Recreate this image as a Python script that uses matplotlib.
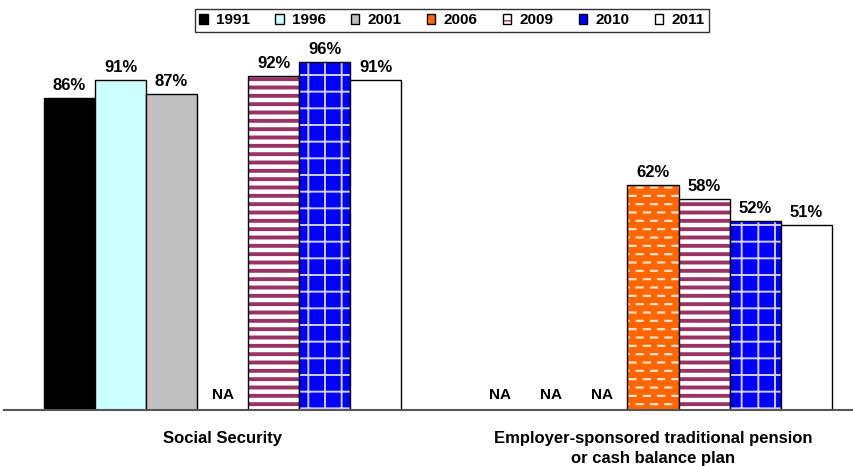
import warnings
import numpy as np
import matplotlib
matplotlib.use("Agg")
import matplotlib.pyplot as plt
import matplotlib.hatch as mhatch
from matplotlib.path import Path
from matplotlib.patches import Patch
from matplotlib.legend_handler import HandlerTuple

warnings.filterwarnings("ignore")

# Data
categories = ["Social Security", "Employer-sponsored traditional pension\nor cash balance plan"]
years = ["1991", "1996", "2001", "2006", "2009", "2010", "2011"]
social_security = [86, 91, 87, None, 92, 96, 91]
employer_pension = [None, None, None, 62, 58, 52, 51]

# Styles per year: face colour, hatch, hatch colour, hatch linewidth
styles = {
    "1991": dict(face="#000000", hatch=None, hcolor=None, hlw=1.0),
    "1996": dict(face="#ccffff", hatch=None, hcolor=None, hlw=1.0),
    "2001": dict(face="#c0c0c0", hatch=None, hcolor=None, hlw=1.0),
    "2006": dict(face="#ff6600", hatch="==", hcolor="#ffe0c8", hlw=1.6),
    "2009": dict(face="#ffffff", hatch="--", hcolor="#993366", hlw=2.8),
    "2010": dict(face="#0000ff", hatch="+", hcolor="#d0d0ff", hlw=1.4),
    "2011": dict(face="#ffffff", hatch=None, hcolor=None, hlw=1.0),
}


# Staggered dash hatch for the 2006 bars
class DashHatch(mhatch.HatchPatternBase):
    def __init__(self, hatch, density):
        self.num_rows = int(hatch.count("=") * density)
        self.num_cols = 7
        self.num_vertices = self.num_rows * self.num_cols * 2

    def set_vertices_and_codes(self, vertices, codes):
        if self.num_rows == 0:
            return
        period = 1.0 / self.num_cols
        dash = 0.42 * period
        k = 0
        for r in range(self.num_rows):
            y = (r + 0.5) / self.num_rows
            off = 0.07 * period + (0.5 * period if r % 2 else 0.0)
            for c in range(self.num_cols):
                x0 = c * period + off
                vertices[k] = (x0, y)
                vertices[k + 1] = (min(x0 + dash, 0.999), y)
                codes[k] = Path.MOVETO
                codes[k + 1] = Path.LINETO
                k += 2


mhatch._hatch_types.append(DashHatch)

plt.rcParams["font.family"] = ["Liberation Sans", "DejaVu Sans"]
plt.rcParams["font.weight"] = "bold"

fig = plt.figure(figsize=(8.54, 4.66), dpi=100)
ax = fig.add_axes([4 / 854, 56 / 466, 850 / 854, 363 / 466])

x = np.arange(len(categories))
bw = 0.1186
series = [social_security, employer_pension]

handles = []
for i, yr in enumerate(years):
    st = styles[yr]
    vals = [s[i] for s in series]
    xs = x + (i - 3) * bw
    present = [(xx, v) for xx, v in zip(xs, vals) if v is not None]
    px = [p[0] for p in present]
    pv = [p[1] for p in present]
    if st["hatch"]:
        with plt.rc_context({"hatch.linewidth": st["hlw"]}):
            hb = ax.bar(px, pv, bw, color=st["face"], edgecolor=st["hcolor"],
                        hatch=st["hatch"], linewidth=0)
            for p in hb:
                if hasattr(p, "set_hatch_linewidth"):
                    p.set_hatch_linewidth(st["hlw"])
    ax.bar(px, pv, bw, color=st["face"] if not st["hatch"] else "none",
           edgecolor="#000000", linewidth=1.0)
    for xx, v in zip(xs, vals):
        if v is None:
            ax.text(xx, 2.2, "NA", ha="center", va="bottom", fontsize=11,
                    fontweight="bold")
        else:
            ax.text(xx, v + 2.2, f"{v}%", ha="center", va="baseline",
                    fontsize=12, fontweight="bold")
    if st["hatch"]:
        hp = Patch(facecolor=st["face"], edgecolor=st["hcolor"],
                   hatch=st["hatch"], linewidth=0)
        if hasattr(hp, "set_hatch_linewidth"):
            hp.set_hatch_linewidth(1.0)
        ho = Patch(facecolor="none", edgecolor="#000000", linewidth=1.0)
        handles.append((hp, ho))
    else:
        handles.append(Patch(facecolor=st["face"], edgecolor="#000000", linewidth=1.0))

ax.set_xlim(-0.508, 1.467)
ax.set_ylim(0, 100)
for s in ["top", "left", "right"]:
    ax.spines[s].set_visible(False)
ax.spines["bottom"].set_color("#555555")
ax.spines["bottom"].set_linewidth(1.5)
ax.set_yticks([])
ax.set_xticks(x)
ax.set_xticklabels(categories, fontsize=12, fontweight="bold", linespacing=1.45)
ax.tick_params(axis="x", length=0, pad=15)

leg = fig.legend(handles, years, loc="center", bbox_to_anchor=(452 / 854, 1 - 20.5 / 466),
                 ncol=7, frameon=True, fancybox=False, edgecolor="#000000",
                 handler_map={tuple: HandlerTuple(ndivide=1, pad=0)},
                 handlelength=0.55, handleheight=0.55, handletextpad=0.55,
                 columnspacing=1.65, borderpad=0.3, prop=dict(size=11, weight="bold"))
leg.get_frame().set_linewidth(1.0)

fig.savefig("out.png", dpi=100)
